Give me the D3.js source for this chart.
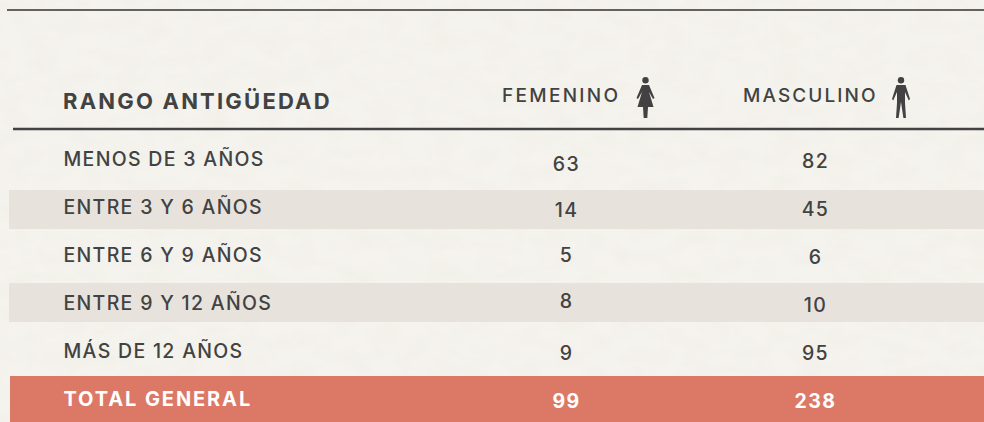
<!DOCTYPE html>
<html><head><meta charset="utf-8">
<script src="https://cdn.jsdelivr.net/npm/d3@7/dist/d3.min.js"></script>
<style>html,body{margin:0;padding:0;background:#f5f3ed;overflow:hidden}svg{display:block}text{font-family:Inter,Lato,sans-serif}</style>
</head><body><svg id="c" width="984" height="422"></svg>
<script>
const categories=["MENOS DE 3 AÑOS","ENTRE 3 Y 6 AÑOS","ENTRE 6 Y 9 AÑOS","ENTRE 9 Y 12 AÑOS","MÁS DE 12 AÑOS"];
const femenino=[63,14,5,8,9];
const masculino=[82,45,6,10,95];
const totalLabel="TOTAL GENERAL";
const totalFemenino=99, totalMasculino=238;
const headers=["RANGO ANTIGÜEDAD","FEMENINO","MASCULINO"];

const ink="#424242", stripe="#e7e3dc", coral="#dc7966";
const svg=d3.select("#c");

// faint paper grain
const flt=svg.append("defs").append("filter").attr("id","paper").attr("x",0).attr("y",0).attr("width","100%").attr("height","100%");
flt.append("feTurbulence").attr("type","fractalNoise").attr("baseFrequency","0.035 0.06").attr("numOctaves",3).attr("seed",4);
flt.append("feColorMatrix").attr("values","0 0 0 0 0.45  0 0 0 0 0.42  0 0 0 0 0.36  0 0 0.09 0 -0.03");
svg.append("rect").attr("width",984).attr("height",422).attr("fill","#f5f3ed");
svg.append("rect").attr("width",984).attr("height",422).attr("filter","url(#paper)");

const rowsAll=[...categories,totalLabel];
const y=d3.scalePoint().domain(rowsAll).range([159,399]);
const x=d3.scaleOrdinal().domain(["F","M"]).range([566.5,815.5]);
// small baseline offsets of the printed figures
const nudgeF=[5,3,0,-2,2,2], nudgeM=[2,2,2,2,2,2];

svg.append("line").attr("x1",7).attr("x2",984).attr("y1",10).attr("y2",10).attr("stroke","#636260").attr("stroke-width",1.8);
svg.append("line").attr("x1",13).attr("x2",984).attr("y1",129).attr("y2",129).attr("stroke",ink).attr("stroke-width",2.4);

svg.append("rect").attr("x",9).attr("width",975).attr("y",y(rowsAll[1])-17).attr("height",39).attr("fill",stripe);
svg.append("rect").attr("x",9).attr("width",975).attr("y",y(rowsAll[3])-20).attr("height",39).attr("fill",stripe);
svg.append("rect").attr("x",10).attr("width",974).attr("y",376).attr("height",46).attr("fill",coral);

const lab=(t,px,py,o={})=>svg.append("text").text(t).attr("x",px).attr("y",py).attr("dy","0.36em")
 .attr("text-anchor",o.a||"start").attr("fill",o.c||ink).attr("font-size",o.s||19)
 .attr("font-weight",o.w||500).attr("letter-spacing",o.l===undefined?1.7:o.l);

lab(headers[0],63,101,{w:700,s:22,l:2.2});
lab(headers[1],502,95,{s:19,l:2.3});
lab(headers[2],743,95,{s:19,l:2.1});

rowsAll.forEach((r,i)=>{
  const tot=i===5, c=tot?"#fff":ink, w=tot?700:500;
  lab(r,63.5,y(r),{c,w,s:tot?20:19.5,l:tot?1.9:1.3});
  const f=tot?totalFemenino:femenino[i], m=tot?totalMasculino:masculino[i];
  lab(f,x("F"),y(r)+nudgeF[i],{a:"middle",c,w,s:19.5,l:1.4});
  lab(m,x("M"),y(r)+nudgeM[i],{a:"middle",c,w,s:19.5,l:1.4});
});

// pictograms
function woman(cx){const g=svg.append("g").attr("transform",`translate(${cx},77)`).attr("fill",ink);
  g.append("circle").attr("cy",3.2).attr("r",3.2);
  g.append("path").attr("d","M-3.5,8 L3.5,8 L9,21 L7.5,22 L3.5,15 L8,30 L2.5,30 L1.8,41 L-1.8,41 L-2.5,30 L-8,30 L-3.5,15 L-7.5,22 L-9,21 Z");}
function man(cx){const g=svg.append("g").attr("transform",`translate(${cx},77)`).attr("fill",ink);
  g.append("circle").attr("cy",3.2).attr("r",3.2);
  g.append("path").attr("d","M-4.5,8 L4.5,8 L9,22 L7.8,23.5 L4,15 L4,26 L5,41 L2.4,41 L0,25 L-2.4,41 L-5,41 L-4,26 L-4,15 L-7.8,23.5 L-9,22 Z");}
woman(645.5);man(901);
</script></body></html>
